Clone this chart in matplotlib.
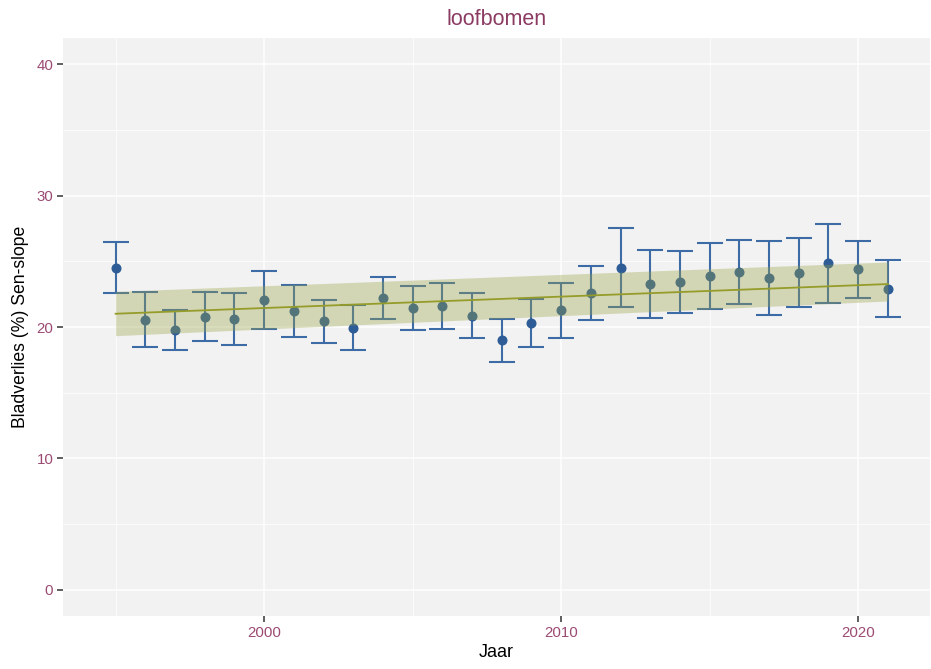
import matplotlib
matplotlib.use("Agg")
import matplotlib.pyplot as plt
from matplotlib.ticker import MultipleLocator

plt.rcParams['font.family'] = ['Liberation Sans', 'DejaVu Sans']

# Yearly leaf-loss estimates (%) with confidence bounds
years = [1995, 1996, 1997, 1998, 1999, 2000, 2001, 2002, 2003, 2004,
         2005, 2006, 2007, 2008, 2009, 2010, 2011, 2012, 2013, 2014,
         2015, 2016, 2017, 2018, 2019, 2020, 2021]
values = [24.49, 20.53, 19.74, 20.78, 20.60, 22.05, 21.21, 20.45, 19.94, 22.23,
          21.44, 21.62, 20.86, 18.98, 20.32, 21.26, 22.58, 24.52, 23.27, 23.45,
          23.86, 24.21, 23.76, 24.14, 24.85, 24.39, 22.92]
upper = [26.45, 22.66, 21.29, 22.66, 22.56, 24.24, 23.22, 22.05, 21.65, 23.83,
         23.12, 23.35, 22.56, 20.60, 22.10, 23.35, 24.67, 27.54, 25.89, 25.81,
         26.37, 26.65, 26.58, 26.75, 27.87, 26.52, 25.08]
lower = [22.56, 18.47, 18.22, 18.95, 18.65, 19.84, 19.26, 18.77, 18.22, 20.60,
         19.79, 19.84, 19.16, 17.35, 18.50, 19.18, 20.50, 21.49, 20.65, 21.06,
         21.37, 21.72, 20.91, 21.52, 21.82, 22.23, 20.76]

# Sen-slope trend with its confidence band (start and end year)
trend_years = [1995, 2021]
trend_values = [21.01, 23.27]
band_lower = [19.34, 21.98]
band_upper = [22.71, 24.95]

title_color = "#8B3A62"
tick_color = "#9B4A72"
bar_color = "#3D6BA6"
point_color = "#2D5C96"
trend_color = "#959C2A"
band_color = "#9BA345"

fig = plt.figure(figsize=(9.31, 6.69), dpi=100)
ax = fig.add_axes([0.0677, 0.0792, 0.9313, 0.8640])
ax.set_facecolor("#F2F2F2")

yerr = [[v - l for v, l in zip(values, lower)],
        [u - v for u, v in zip(upper, values)]]
ax.errorbar(years, values, yerr=yerr, fmt='none', ecolor=bar_color,
            elinewidth=1.5, capsize=9.6, capthick=1.5, zorder=3)
ax.plot(years, values, 'o', color=point_color, markersize=6.2, zorder=4)

ax.fill_between(trend_years, band_lower, band_upper, color=band_color,
                alpha=0.35, linewidth=0, zorder=5)
ax.plot(trend_years, trend_values, color=trend_color, linewidth=1.3, zorder=6)

ax.set_xlim(1993.23, 2022.42)
ax.set_ylim(-2.0, 42.0)
ax.xaxis.set_major_locator(MultipleLocator(10))
ax.xaxis.set_minor_locator(MultipleLocator(5))
ax.yaxis.set_major_locator(MultipleLocator(10))
ax.yaxis.set_minor_locator(MultipleLocator(5))

ax.grid(True, which='major', color='white', linewidth=1.1, zorder=0)
ax.grid(True, which='minor', color='white', linewidth=0.55, zorder=0)
ax.set_axisbelow(True)
for s in ax.spines.values():
    s.set_visible(False)

ax.tick_params(axis='both', which='major', length=4, width=1.1,
               color='#333333', labelcolor=tick_color, labelsize=10.8, pad=3)
ax.tick_params(axis='both', which='minor', length=0)

ax.set_title("loofbomen", color=title_color, fontsize=15.5, pad=9)
ax.set_xlabel("Jaar", fontsize=13, labelpad=3)
ax.set_ylabel("Bladverlies (%) Sen-slope", fontsize=12.7, labelpad=5)

fig.savefig("out.png", dpi=100)
